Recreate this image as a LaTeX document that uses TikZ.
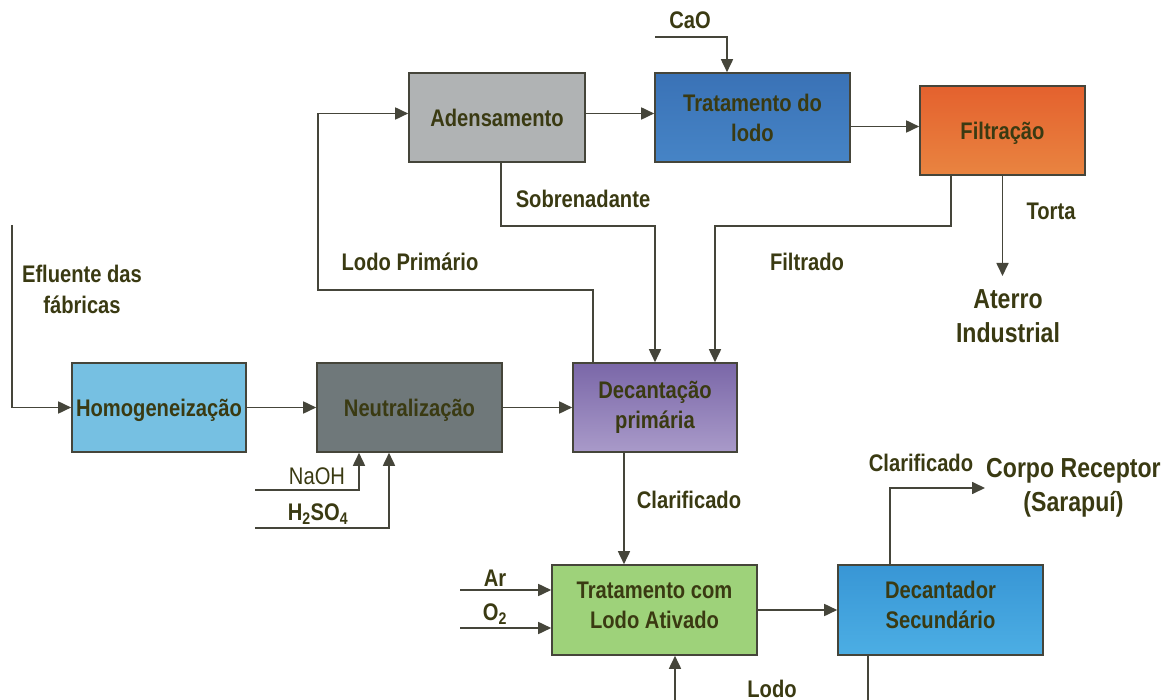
\documentclass[tikz,border=0pt]{standalone}
\usepackage{fontspec}
\setmainfont{Liberation Sans}[FakeStretch=0.84]
\usetikzlibrary{arrows.meta,positioning}
\definecolor{txt}{HTML}{3A3A12}
\definecolor{ln}{HTML}{45453A}
\definecolor{homc}{HTML}{76C0E2}
\definecolor{neuc}{HTML}{6F787A}
\definecolor{dptop}{HTML}{7A67A8}
\definecolor{dpbot}{HTML}{A99AC9}
\definecolor{adc}{HTML}{B0B3B4}
\definecolor{tltop}{HTML}{3A72B6}
\definecolor{tlbot}{HTML}{4684C6}
\definecolor{fitop}{HTML}{E4612E}
\definecolor{fibot}{HTML}{E98440}
\definecolor{lac}{HTML}{9ED27A}
\definecolor{dstop}{HTML}{3896D5}
\definecolor{dsbot}{HTML}{4CAEE4}
\tikzstyle{box}=[draw=ln,line width=1.6pt,align=center,text=txt,
  font=\bfseries\fontsize{24}{30}\selectfont,minimum height=89pt]
\tikzstyle{lbl}=[text=txt,font=\bfseries\fontsize{24}{31}\selectfont,align=center,inner sep=1pt]
\tikzstyle{big}=[lbl,font=\bfseries\fontsize{27.5}{34}\selectfont]
\tikzstyle{flow}=[draw=ln,line width=1.7pt]

\begin{document}
\begin{tikzpicture}[x=1pt,y=-1pt,>={Triangle[length=13pt,width=12pt]}, on grid]
  \useasboundingbox (0,0) rectangle (1168,700);

  \node[box, fill=homc, minimum width=174pt, text depth=-5pt] (hom) at (159,407.5) {Homogeneização};
  \node[box, fill=neuc, minimum width=185pt, text depth=-5pt, right=250.5pt of hom] (neu) {Neutralização};
  \node[box, top color=dptop, bottom color=dpbot, minimum width=164pt,
    right=245.5pt of neu] (dp) {Decantação\\primária};

  \node[box, fill=adc, minimum width=176pt, text depth=-12pt] (ad) at (497,117.5) {Adensamento};
  \node[box, top color=tltop, bottom color=tlbot, minimum width=195pt, text depth=-14pt,
    right=255.5pt of ad] (tl) {Tratamento do\\lodo};
  \node[box, top color=fitop, bottom color=fibot, minimum width=165pt, text depth=-13pt]
    (fi) at (1002.5,130.5) {Filtração};

  \node[box, fill=lac, minimum width=205pt, minimum height=90pt, text depth=10pt] (la) at (654.5,610)
    {Tratamento com\\Lodo Ativado};
  \node[box, top color=dstop, bottom color=dsbot, minimum width=205pt, text depth=10pt,
    minimum height=90pt, right=286pt of la] (ds) {Decantador\\Secundário};

  \node[big, anchor=north] (at) at (1008,288) {Aterro\\Industrial};
  \node[big, anchor=west] (cr) at (985,488) {Corpo Receptor\\(Sarapuí)};

  % entradas
  \coordinate (ef) at (12,225);
  \coordinate (na) at (255,490);
  \coordinate (hs) at (255,528);
  \coordinate (ca) at (655,37);
  \coordinate (ar) at (460,590);
  \coordinate (ox) at (460,628);
  \coordinate (rl) at (675,700);
  \coordinate (sl) at (868,700);

  \draw[flow,->] (ef) |- (hom.west);
  \draw[flow,->] (hom) -- (neu);
  \draw[flow,->] (neu) -- (dp);
  \draw[flow,->] (na) -| ([xshift=-50.5pt]neu.south);
  \draw[flow,->] (hs) -| ([xshift=-20.5pt]neu.south);
  \draw[flow,->] ([xshift=-62pt]dp.north) |- (318,290) |- ([yshift=4pt]ad.west);
  \draw[flow,->] ([yshift=4pt]ad.east) -- ([yshift=4pt]tl.west);
  \draw[flow,->] ([yshift=4pt]tl.east |- fi.west) -- ([yshift=4pt]fi.west);
  \draw[flow,->] (ca) -| ([xshift=-25.5pt]tl.north);
  \draw[flow,->] ([xshift=4pt]ad.south) -- ++(0,63) -| (dp.north);
  \draw[flow,->] ([xshift=-51.5pt]fi.south) -- ++(0,50) -| ([xshift=60pt]dp.north);
  \draw[flow,->,shorten >=12pt] (fi.south) -- (fi.south |- at.north);
  \draw[flow,->] ([xshift=-31pt]dp.south) -- ([xshift=-30.5pt]la.north);
  \draw[flow,->] (ar) -- (ar -| la.west);
  \draw[flow,->] (ox) -- (ox -| la.west);
  \draw[flow,->] (la) -- (ds);
  \draw[flow,->] ([xshift=-50.5pt]ds.north) |- (cr.west);
  \draw[flow,->] (rl) -- (rl |- la.south);
  \draw[flow] (sl |- ds.south) -- (sl);

  \node[lbl] (l1) at (82,289) {Efluente das\\fábricas};
  \node[lbl, font=\fontsize{24}{28}\selectfont] (l2) at (317,476) {NaOH};
  \node[lbl] (l3) at (318,514) {H\textsubscript{2}SO\textsubscript{4}};
  \node[lbl] (l4) at (410,262) {Lodo Primário};
  \node[lbl] (l5) at (583,199) {Sobrenadante};
  \node[lbl] (l6) at (690,20) {CaO};
  \node[lbl] (l7) at (807,262) {Filtrado};
  \node[lbl] (l8) at (1051,211) {Torta};
  \node[lbl] (l9) at (689,500) {Clarificado};
  \node[lbl] (l10) at (495,578) {Ar};
  \node[lbl] (l11) at (495,614) {O\textsubscript{2}};
  \node[lbl] (l12) at (921,463) {Clarificado};
  \node[lbl, text depth=0pt, anchor=base] (l13) at (772,697) {Lodo};
\end{tikzpicture}
\end{document}
